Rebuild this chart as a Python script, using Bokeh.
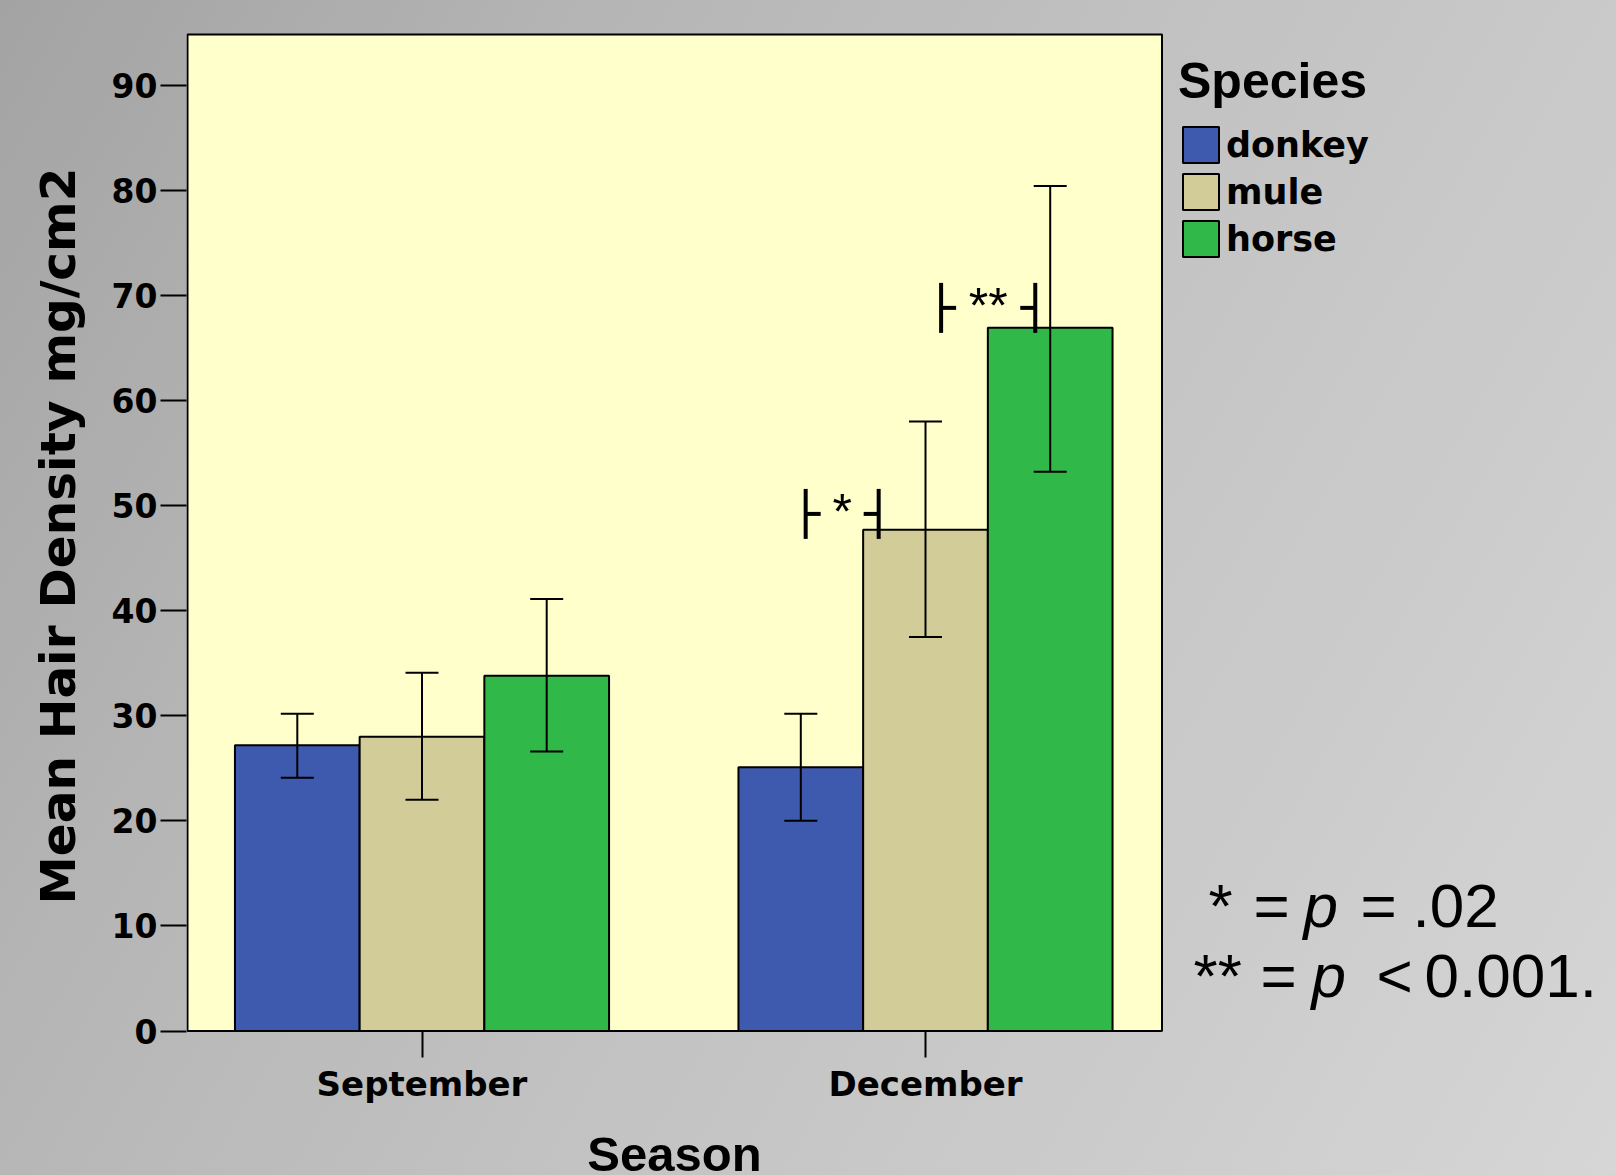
from bokeh.plotting import figure
from bokeh.models import (ColumnDataSource, Range1d, FixedTicker, Legend, LegendItem,
                          Whisker, TeeHead, Label, Title, BoxAnnotation)
from bokeh.embed import file_html
from bokeh.resources import INLINE
from bokeh.core.properties import value

# ---------------- data ----------------
seasons = ["September", "December"]
season_pos = [0, 1]
species = ["donkey", "mule", "horse"]
colors = ["#3e5aae", "#d2cd98", "#30b848"]

donkey_mean = [27.2, 25.1]
mule_mean = [28.0, 47.7]
horse_mean = [33.8, 66.9]
donkey_upper = [30.2, 30.2]
mule_upper = [34.1, 58.0]
horse_upper = [41.1, 80.4]
donkey_lower = [24.1, 20.0]
mule_lower = [22.0, 37.5]
horse_lower = [26.6, 53.2]

y_ticks = [0, 10, 20, 30, 40, 50, 60, 70, 80, 90]

sig_labels = ["*", "**"]
sig_left = [0.762, 1.031]
sig_right = [0.907, 1.218]
sig_y = [49.2, 68.8]

means = [donkey_mean, mule_mean, horse_mean]
uppers = [donkey_upper, mule_upper, horse_upper]
lowers = [donkey_lower, mule_lower, horse_lower]

# ---------------- geometry (pixels) ----------------
W, H = 1616, 1175
FL, FT = 186, 32            # frame left / top; frame runs to right & bottom edges
X_ORIGIN_PX, X_UNIT_PX = 421.5, 503.5     # pixel of x=0 and px per unit
Y_ORIGIN_PX, Y_UNIT_PX = 1030.6, 10.512   # pixel of y=0 and px per unit
BOX_TOP_PX, BOX_RIGHT_PX = 34, 1161.5
BASE_SHIFT = 0.37           # empirical baseline correction (em) for labels


def dx(px):
    return (px - X_ORIGIN_PX) / X_UNIT_PX


def dy(py):
    return (Y_ORIGIN_PX - py) / Y_UNIT_PX


X0, X1 = dx(FL), dx(W)
Y0, Y1 = dy(H), dy(FT)
bar_w = 124.7 / X_UNIT_PX
offsets = [-bar_w, 0.0, bar_w]

p = figure(width=W, height=H, x_range=Range1d(X0, X1), y_range=Range1d(Y0, Y1),
           output_backend="svg", toolbar_location=None,
           min_border_left=FL, min_border_right=0, min_border_top=FT, min_border_bottom=0)

p.border_fill_alpha = 0
p.background_fill_alpha = 0
p.styles = {"background": "linear-gradient(120deg, #a3a3a3 0%, #b6b6b6 28%, #c3c3c3 55%, #cdcdcd 80%, #d6d6d6 100%)"}
p.outline_line_color = None
p.xgrid.visible = False
p.ygrid.visible = False

# plot box (yellow panel with black border)
box = BoxAnnotation(left=X0 + 1.0 / X_UNIT_PX, right=dx(BOX_RIGHT_PX), bottom=0, top=dy(BOX_TOP_PX),
                    fill_color="#ffffcc", fill_alpha=1.0, line_color="black", line_alpha=1.0,
                    line_width=2, level="underlay")
p.add_layout(box)

renderers = []
for i, sp in enumerate(species):
    xs = [s + offsets[i] for s in season_pos]
    src = ColumnDataSource(dict(x=xs, top=means[i], upper=uppers[i], lower=lowers[i]))
    r = p.vbar(x="x", top="top", bottom=0, width=bar_w, source=src,
               fill_color=colors[i], line_color="black", line_width=2)
    renderers.append(r)
    wk = Whisker(base="x", upper="upper", lower="lower", source=src,
                 line_color="black", line_width=2,
                 upper_head=TeeHead(size=33, line_width=2, line_color="black"),
                 lower_head=TeeHead(size=33, line_width=2, line_color="black"))
    wk.level = "overlay"
    p.add_layout(wk)

# significance brackets
half = 25 / Y_UNIT_PX
stub = 15 / X_UNIT_PX
p.segment(x0=sig_left, y0=[y - half for y in sig_y], x1=sig_left, y1=[y + half for y in sig_y],
          line_color="black", line_width=4)
p.segment(x0=sig_right, y0=[y - half for y in sig_y], x1=sig_right, y1=[y + half for y in sig_y],
          line_color="black", line_width=4)
p.segment(x0=sig_left, y0=sig_y, x1=[x + stub for x in sig_left], y1=sig_y,
          line_color="black", line_width=4)
p.segment(x0=[x - stub for x in sig_right], y0=sig_y, x1=sig_right, y1=sig_y,
          line_color="black", line_width=4)
p.text(x=[(a + b) / 2 for a, b in zip(sig_left, sig_right)], y=sig_y, text=sig_labels,
       text_align="center", text_baseline="alphabetic", y_offset=-2,
       text_font=value("Liberation Sans"), text_font_size=value("50px"), text_color="black")

# axes
for ax in (p.xaxis[0], p.yaxis[0]):
    ax.axis_line_color = None
    ax.major_tick_line_color = "black"
    ax.major_tick_line_width = 2
    ax.major_tick_out = 26
    ax.major_tick_in = 0
    ax.minor_tick_line_color = None
    ax.major_label_text_color = "black"
    ax.major_label_text_font = "DejaVu Sans"
    ax.major_label_text_font_style = "bold"

p.xaxis.fixed_location = 0
p.xaxis.ticker = FixedTicker(ticks=season_pos)
p.xaxis.major_label_overrides = {season_pos[i]: seasons[i] for i in range(len(seasons))}
p.xaxis.major_label_text_font_size = "34px"
p.xaxis.major_label_standoff = 7

p.yaxis.ticker = FixedTicker(ticks=y_ticks)
p.yaxis.major_label_text_font_size = "33px"
p.yaxis.major_label_standoff = 3

# y-axis title (Title in the left panel so it can sit off-centre)
p.add_layout(Title(text="Mean Hair Density mg/cm2", align="left", offset=H - 904,
                   vertical_align="middle", standoff=43,
                   text_font="DejaVu Sans", text_font_size="48.5px", text_font_style="bold",
                   text_color="black"), "left")

# x-axis title
season_size = 49
p.add_layout(Label(x=dx(674), y=dy(1172 - BASE_SHIFT * season_size), text="Season",
                   text_align="center", text_baseline="alphabetic", text_font="Liberation Sans",
                   text_font_size=f"{season_size}px", text_font_style="bold", text_color="black"))

# legend (bar legend glyphs are drawn at 80% of the glyph box)
leg_left = 1167.5
legend = Legend(items=[LegendItem(label=species[i], renderers=[renderers[i]]) for i in range(3)],
                title="Species", location="top_right",
                title_text_font="Liberation Sans", title_text_font_size="50px",
                title_text_font_style="bold", title_text_color="black", title_standoff=12,
                label_text_font="DejaVu Sans", label_text_font_size="35px",
                label_text_font_style="bold", label_text_color="black",
                glyph_width=45, glyph_height=45, spacing=2, label_standoff=3,
                label_width=int(W - 10 - leg_left - 20 - 45 - 3),
                padding=10, margin=10, background_fill_alpha=0, border_line_alpha=0)
p.add_layout(legend)

# p-value note
note_font = "Liberation Sans"
note_size = 62
note_parts = [
    (1208, 928, "*", "normal"),
    (1253, 928, "=", "normal"),
    (1303, 928, "p", "italic"),
    (1360, 928, "=", "normal"),
    (1412, 928, ".02", "normal"),
    (1193, 998, "**", "normal"),
    (1260, 998, "=", "normal"),
    (1311, 998, "p", "italic"),
    (1376, 998, "<", "normal"),
    (1424, 998, "0.001.", "normal"),
]
for px, py, t, st in note_parts:
    p.add_layout(Label(x=dx(px), y=dy(py - BASE_SHIFT * note_size), text=t, text_align="left",
                       text_baseline="alphabetic", text_font=note_font,
                       text_font_size=f"{note_size}px", text_font_style=st, text_color="black"))

open("out.html", "w").write(file_html(p, INLINE))
